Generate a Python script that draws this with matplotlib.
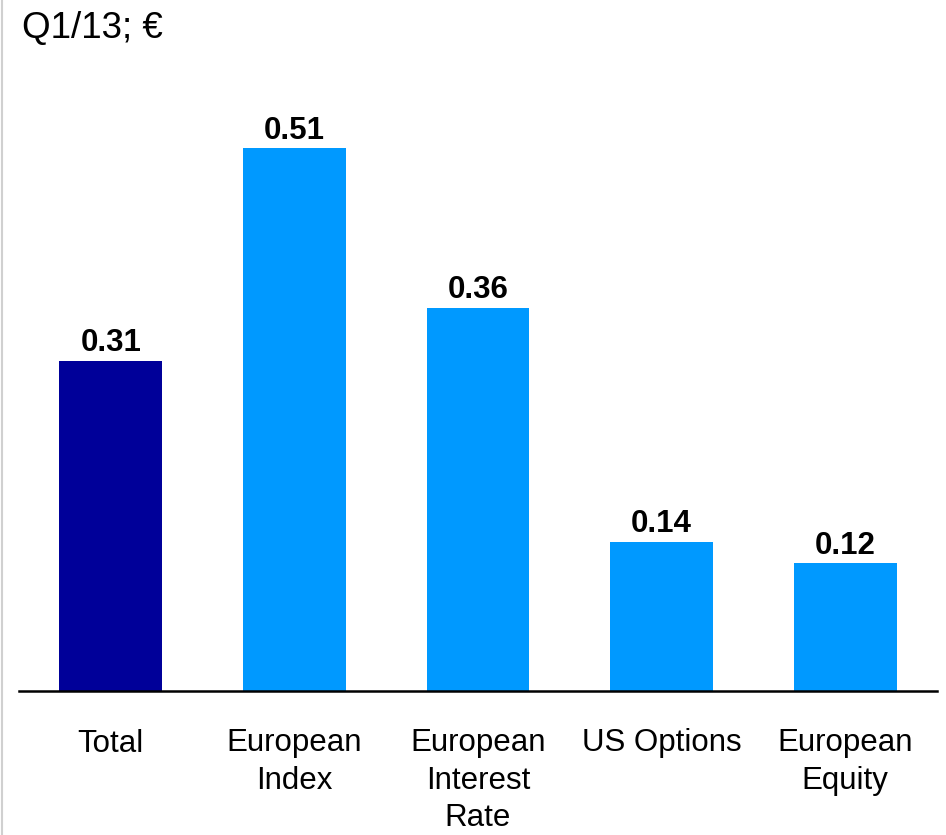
import matplotlib
matplotlib.use("Agg")
import matplotlib.pyplot as plt
from matplotlib.lines import Line2D

categories = ["Total", "European\nIndex", "European\nInterest\nRate", "US Options", "European\nEquity"]
values = [0.31, 0.51, 0.36, 0.14, 0.12]
colors = ["#000099", "#0099FF", "#0099FF", "#0099FF", "#0099FF"]
title = "Q1/13; €"

plt.rcParams['font.family'] = ['Liberation Sans', 'DejaVu Sans']

fig = plt.figure(figsize=(9.46, 8.35), dpi=100)
ax = fig.add_axes([19/946, (835-691)/835, 918/946, (691-100)/835])

x = list(range(len(categories)))
bars = ax.bar(x, values, width=0.56, color=colors, zorder=2)
ax.set_xlim(-0.5, 4.5)
ax.set_ylim(0, (691-100)/1064)

for xi, v in zip(x, values):
    ax.annotate(f"{v:.2f}", (xi, v), xytext=(0, 2), textcoords="offset points",
                ha="center", va="bottom", fontsize=22.5, fontweight="bold", color="black")

for s in ["top", "right", "left"]:
    ax.spines[s].set_visible(False)
ax.spines["bottom"].set_linewidth(1.8)
ax.spines["bottom"].set_color("black")
ax.set_yticks([])
ax.set_xticks(x)
ax.set_xticklabels(categories, fontsize=22.5, linespacing=1.31)
ax.tick_params(axis="x", length=0, pad=27)

fig.text(22/946, 1 - 38/835, title, fontsize=26.5, ha="left", va="baseline", color="black")

fig.add_artist(Line2D([1.5/946, 1.5/946], [0, 1], color="#d0d0d0", linewidth=1.5, transform=fig.transFigure))

fig.savefig("out.png", dpi=100)
